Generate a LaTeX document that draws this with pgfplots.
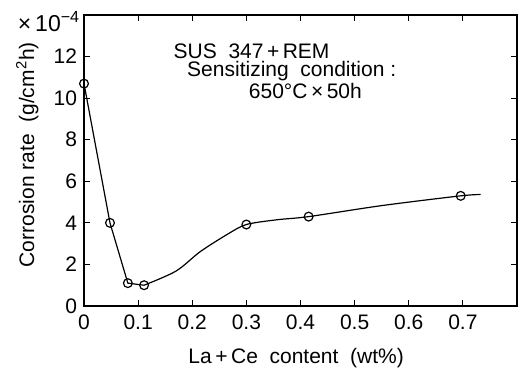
\documentclass[border=0pt]{standalone}
\usepackage{pgfplots}
\pgfplotsset{compat=1.18}
\usepackage{fontspec}
\setmainfont{Liberation Sans}
\begin{document}
\begin{tikzpicture}
\useasboundingbox (-42pt,-32pt) rectangle (217.5pt,153pt);
\begin{axis}[
  at={(0,0)}, anchor=south west,
  scale only axis, width=216.5pt, height=145.5pt,
  xmin=0, xmax=0.8, ymin=0, ymax=14,
  xtick={0,0.1,0.2,0.3,0.4,0.5,0.6,0.7},
  xticklabels={0,0.1,0.2,0.3,0.4,0.5,0.6,0.7},
  ytick={0,2,4,6,8,10,12},
  tick align=inside, major tick length=3pt,
  tick style={black, line width=0.6pt},
  axis line style={line width=0.8pt},
  /pgf/number format/assume math mode=true,
  tick label style={font=\fontsize{10.5}{12}\selectfont},
  xticklabel style={yshift=-1pt},
  clip=false,
  every axis x label/.style={at={(axis description cs:0.49,-0.179)},anchor=center},
  every axis y label/.style={at={(axis description cs:-0.131,0.52)},rotate=90,anchor=center},
  label style={font=\fontsize{10.5}{12}\selectfont},
  xlabel={La\,+\,Ce\ \ content\ \ (wt\%)},
  ylabel={Corrosion\ rate\ \ (g/cm\textsuperscript{2}h)},
]
\addplot[black, line width=0.6pt] coordinates {
 (0,10.7) (0.048,4.0) (0.081,1.1) (0.111,1.0)
};
\addplot[black, line width=0.6pt, smooth, tension=0.5] coordinates {
 (0.111,1.0) (0.17,1.68) (0.215,2.62) (0.265,3.45) (0.30,3.92)
 (0.357,4.15) (0.415,4.3) (0.55,4.83) (0.696,5.3) (0.733,5.36)
};
\addplot[only marks, mark=o, mark size=2.2pt, mark options={fill=white, line width=0.6pt}, black] coordinates {
 (0,10.7) (0.048,4.0) (0.081,1.1) (0.111,1.0) (0.30,3.92) (0.415,4.3) (0.696,5.3)
};
\node[anchor=west, font=\fontsize{11.5}{13}\selectfont] at (axis cs:-0.135,13.7) {×\,10\textsuperscript{−4}};
\node[anchor=west, font=\fontsize{10.5}{12}\selectfont, inner sep=0pt] at (axis cs:0.165,12.25) {SUS\ \ 347\,+\,REM};
\node[anchor=west, font=\fontsize{10.5}{12}\selectfont, inner sep=0pt] at (axis cs:0.19,11.3) {Sensitizing\ \ condition\ :};
\node[anchor=west, font=\fontsize{10.5}{12}\selectfont, inner sep=0pt] at (axis cs:0.304,10.33) {650°C\,×\,50h};
\end{axis}
\end{tikzpicture}
\end{document}
